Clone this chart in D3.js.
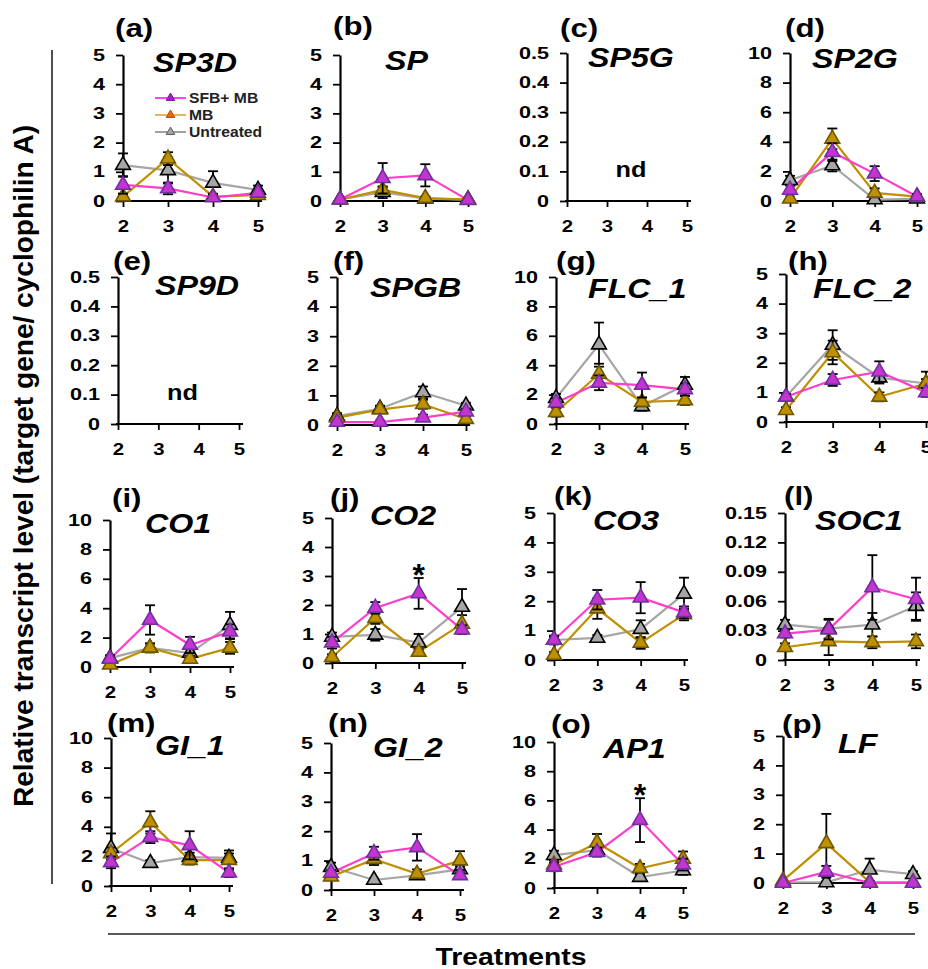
<!DOCTYPE html>
<html>
<head>
<meta charset="utf-8">
<script src="https://cdn.jsdelivr.net/npm/d3@7"></script>
<style>
body { margin: 0; background: #fff; }
svg text { font-family: "Liberation Sans", Arial, sans-serif; font-weight: bold; fill: #000; }
</style>
</head>
<body>
<script>
// - data -

const panelLetters = ['a', 'b', 'c', 'd', 'e', 'f', 'g', 'h', 'i', 'j', 'k', 'l', 'm', 'n', 'o', 'p'];
const genes = ['SP3D', 'SP', 'SP5G', 'SP2G', 'SP9D', 'SPGB', 'FLC_1', 'FLC_2',
	'CO1', 'CO2', 'CO3', 'SOC1', 'GI_1', 'GI_2', 'AP1', 'LF'];
const treatments = [2, 3, 4, 5];
const seriesNames = ['SFB+ MB', 'MB', 'Untreated'];

const ticks5 = [0, 1, 2, 3, 4, 5];
const ticks10 = [0, 2, 4, 6, 8, 10];
const ticks05 = [0, 0.1, 0.2, 0.3, 0.4, 0.5];
const ticks015 = [0, 0.03, 0.06, 0.09, 0.12, 0.15];
const yTickSets = [ticks5, ticks5, ticks05, ticks10, ticks05, ticks5, ticks10, ticks5,
	ticks10, ticks5, ticks5, ticks015, ticks10, ticks5, ticks10, ticks5];

// null = not detected (nd)
const sfbMb = [
	[0.55, 0.43, 0.12, 0.28], [0.05, 0.78, 0.88, 0.03], null, [0.75, 3.3, 1.85, 0.3],
	null, [0.1, 0.1, 0.25, 0.45], [1.45, 2.8, 2.65, 2.35], [0.85, 1.42, 1.7, 1.0],
	[0.55, 3.2, 1.5, 2.4], [0.7, 1.9, 2.4, 1.15], [0.68, 2.05, 2.12, 1.62], [0.027, 0.031, 0.074, 0.062],
	[1.6, 3.3, 2.75, 0.9], [0.58, 1.25, 1.45, 0.5], [1.45, 2.45, 4.65, 1.6], [0, 0.38, 0, 0]
];
const sfbMbErr = [
	[0.3, 0.2, 0.1, 0.1], [0.03, 0.52, 0.38, 0.02], null, [0.3, 0.6, 0.5, 0.15],
	null, [0.05, 0.05, 0.1, 0.1], [0.3, 0.5, 0.85, 0.4], [0.1, 0.2, 0.35, 0.15],
	[0.2, 1.0, 0.55, 0.5], [0.2, 0.2, 0.53, 0.15], [0.15, 0.33, 0.53, 0.2], [0.004, 0.01, 0.033, 0.022],
	[0.4, 0.4, 0.95, 0.3], [0.1, 0.22, 0.45, 0.1], [0.3, 0.3, 1.5, 0.4], [0, 0.2, 0, 0]
];
const mb = [
	[0.15, 1.45, 0.15, 0.2], [0.05, 0.38, 0.1, 0.05], null, [0.15, 4.2, 0.55, 0.3],
	null, [0.25, 0.52, 0.7, 0.2], [0.8, 3.4, 1.5, 1.6], [0.4, 2.35, 0.85, 1.3],
	[0.15, 1.3, 0.55, 1.3], [0.2, 1.55, 0.38, 1.35], [0.17, 1.75, 0.58, 1.55], [0.013, 0.019, 0.018, 0.019],
	[2.2, 4.3, 1.75, 1.75], [0.45, 1.05, 0.55, 1.0], [1.6, 3.1, 1.35, 2.0], [0.08, 1.35, 0.03, 0.02]
];
const mbErr = [
	[0.1, 0.22, 0.1, 0.1], [0.03, 0.1, 0.05, 0.03], null, [0.1, 0.7, 0.3, 0.15],
	null, [0.1, 0.1, 0.15, 0.1], [0.3, 0.7, 0.3, 0.3], [0.1, 0.4, 0.15, 0.15],
	[0.1, 0.3, 0.2, 0.4], [0.1, 0.2, 0.1, 0.3], [0.1, 0.35, 0.2, 0.2], [0.004, 0.014, 0.006, 0.007],
	[0.4, 0.75, 0.3, 0.65], [0.1, 0.2, 0.15, 0.32], [0.3, 0.6, 0.3, 0.5], [0.02, 1.0, 0.02, 0.02]
];
const untreated = [
	[1.23, 1.05, 0.62, 0.38], [0.05, 0.3, 0.08, 0.05], null, [1.4, 2.4, 0.1, 0.15],
	null, [0.3, 0.55, 1.1, 0.65], [1.75, 5.4, 1.2, 2.65], [0.85, 2.6, 1.5, 1.3],
	[0.6, 1.3, 0.95, 2.85], [0.9, 0.97, 0.7, 1.93], [0.68, 0.75, 1.05, 2.25], [0.036, 0.032, 0.036, 0.055],
	[2.55, 1.55, 1.95, 1.9], [0.78, 0.34, 0.5, 0.7], [2.25, 2.6, 0.75, 1.2], [0.02, 0.02, 0.45, 0.3]
];
const untreatedErr = [
	[0.4, 0.45, 0.4, 0.15], [0.03, 0.2, 0.05, 0.03], null, [0.3, 0.4, 0.05, 0.1],
	null, [0.1, 0.1, 0.2, 0.1], [0.3, 1.5, 0.3, 0.55], [0.1, 0.5, 0.2, 0.4],
	[0.2, 0.3, 0.3, 0.9], [0.15, 0.2, 0.3, 0.62], [0.1, 0.1, 0.3, 0.55], [0.005, 0.01, 0.012, 0.014],
	[1.0, 0.2, 0.3, 0.3], [0.15, 0.05, 0.1, 0.1], [0.3, 0.3, 0.2, 0.3], [0.01, 0.02, 0.38, 0.1]
];

// index of treatment marked with * (significant), -1 = none
const starAt = [-1, -1, -1, -1, -1, -1, -1, -1, -1, 2, -1, -1, -1, -1, 2, -1];

// - layout -

var width = 928;
var height = 969;

// x of treatment 2, x of treatment 5, y of axis top, y of zero
var boxes = [
	[123, 258, 55, 201], [340, 468, 55, 201], [567, 687, 53, 201], [790, 917, 53, 201],
	[118, 239, 277, 424], [337, 466, 277, 425], [556, 685, 277, 424], [786, 926, 274, 422],
	[110, 230, 520, 667], [332, 462, 518, 663], [554, 684, 513, 660], [785, 916, 513, 660],
	[111, 229, 738, 886], [331, 460, 743, 890], [554, 683, 742, 888], [783, 913, 736, 883]
];
var letterPos = [
	[115, 37], [333, 35], [560, 37], [785, 37],
	[113, 270], [333, 270], [556, 270], [788, 270],
	[112, 507], [330, 507], [554, 505], [784, 505],
	[107, 732], [328, 732], [551, 733], [782, 733]
];
var genePos = [
	[153, 72], [385, 70], [588, 67], [812, 68],
	[155, 295], [370, 297], [588, 298], [813, 298],
	[145, 533], [370, 525], [593, 530], [815, 530],
	[155, 755], [373, 757], [603, 758], [838, 753]
];

var styles = {
	'SFB+ MB':   { line: '#ff3dcc', fill: '#c435d0', stroke: '#7030a0', lgLine: '#ff40ff', lgFill: '#a21fd0', lgStroke: '#7a1aa0' },
	'MB':        { line: '#bf9000', fill: '#bf9000', stroke: '#6f5600', lgLine: '#e3b958', lgFill: '#e36c0a', lgStroke: '#b05010' },
	'Untreated': { line: '#a6a6a6', fill: '#a6a6a6', stroke: '#000000', lgLine: '#a0a0a0', lgFill: '#a6a6a6', lgStroke: '#606060' }
};

var svg = d3.select('body').append('svg')
	.attr('width', width)
	.attr('height', height);

// - helpers -

// widen text horizontally (the source figure uses a wide bold face)
function stretch(sel, sx) {
	sel.each(function() {
		var t = d3.select(this);
		var x = +t.attr('x') || 0, y = +t.attr('y') || 0;
		t.attr('x', 0).attr('y', 0)
			.attr('transform', 'translate(' + x + ',' + y + ') scale(' + sx + ',1)');
	});
}

const fmtTick = (d) => String(+d.toFixed(2));

function seriesData(i) {
	return [
		{ name: 'Untreated', values: untreated[i], errs: untreatedErr[i] },
		{ name: 'MB', values: mb[i], errs: mbErr[i] },
		{ name: 'SFB+ MB', values: sfbMb[i], errs: sfbMbErr[i] }
	];
}

// - panels -

function drawPanel(i) {
	var b = boxes[i];
	var yTicks = yTickSets[i];
	var x = d3.scaleLinear().domain([2, 5]).range([b[0], b[1]]);
	var y = d3.scaleLinear().domain([0, yTicks[yTicks.length - 1]]).range([b[3], b[2]]);

	var g = svg.append('g').attr('class', 'panel');

	// y axis
	var ga = g.append('g')
		.attr('transform', 'translate(' + b[0] + ',0)')
		.call(d3.axisLeft(y).tickValues(yTicks).tickFormat(fmtTick).tickSize(7).tickPadding(11).tickSizeOuter(0));
	ga.selectAll('text').attr('font-size', 16);
	stretch(ga.selectAll('text'), 1.35);

	// x axis
	var gx = g.append('g')
		.attr('transform', 'translate(0,' + b[3] + ')')
		.call(d3.axisBottom(x).tickValues(treatments).tickFormat(d3.format('d')).tickSize(6).tickPadding(13).tickSizeOuter(0));
	gx.select('.domain').attr('d', 'M' + (x.range()[0] - 2) + ',0H' + (x.range()[1] + 4));
	gx.selectAll('text').attr('font-size', 17);
	stretch(gx.selectAll('text'), 1.2);

	svg.selectAll('.panel .domain').attr('stroke', '#000').attr('stroke-width', 2.2);
	svg.selectAll('.panel .tick line').attr('stroke', '#000').attr('stroke-width', 1.8);

	// titles
	var lt = g.append('text')
		.attr('x', letterPos[i][0]).attr('y', letterPos[i][1])
		.attr('font-size', 26)
		.text('(' + panelLetters[i] + ')');
	stretch(lt, 1.2);

	var gt = g.append('text')
		.attr('x', genePos[i][0]).attr('y', genePos[i][1])
		.attr('font-size', 28)
		.attr('font-style', 'italic')
		.text(genes[i]);
	stretch(gt, 1.15);

	if (sfbMb[i] == null) {
		var nd = g.append('text')
			.attr('x', x(3.6)).attr('y', y(yTicks[yTicks.length - 1] * 0.16))
			.attr('text-anchor', 'middle')
			.attr('font-size', 22)
			.text('nd');
		stretch(nd, 1.15);
		return;
	}

	var series = seriesData(i);
	var line = d3.line()
		.x(function(d, k) { return x(treatments[k]); })
		.y(function(d) { return y(d); });

	// lines first
	series.forEach(function(s) {
		g.append('path')
			.attr('d', line(s.values))
			.attr('fill', 'none')
			.attr('stroke', styles[s.name].line)
			.attr('stroke-width', 2.2);
	});

	var tri = d3.symbol().type(d3.symbolTriangle).size(95);

	series.forEach(function(s) {
		var pts = s.values.map(function(v, k) { return { t: treatments[k], v: v, e: s.errs[k] }; });

		// error bars
		var eb = g.append('g').selectAll('g')
			.data(pts).enter()
			.append('g')
				.attr('stroke', '#000')
				.attr('stroke-width', 1.8);
		eb.append('line')
			.attr('x1', function(d) { return x(d.t); })
			.attr('x2', function(d) { return x(d.t); })
			.attr('y1', function(d) { return y(Math.max(0, d.v - d.e)); })
			.attr('y2', function(d) { return y(d.v + d.e); });
		eb.append('line')
			.attr('x1', function(d) { return x(d.t) - 5; })
			.attr('x2', function(d) { return x(d.t) + 5; })
			.attr('y1', function(d) { return y(d.v + d.e); })
			.attr('y2', function(d) { return y(d.v + d.e); });
		eb.filter(function(d) { return d.v - d.e > 0; }).append('line')
			.attr('x1', function(d) { return x(d.t) - 5; })
			.attr('x2', function(d) { return x(d.t) + 5; })
			.attr('y1', function(d) { return y(d.v - d.e); })
			.attr('y2', function(d) { return y(d.v - d.e); });

		// markers
		g.append('g').selectAll('path')
			.data(pts).enter()
			.append('path')
				.attr('d', tri)
				.attr('transform', function(d) { return 'translate(' + x(d.t) + ',' + y(d.v) + ')'; })
				.attr('fill', styles[s.name].fill)
				.attr('stroke', styles[s.name].stroke)
				.attr('stroke-width', 1.6);
	});

	// significance star
	if (starAt[i] >= 0) {
		var k = starAt[i];
		g.append('text')
			.attr('x', x(treatments[k]))
			.attr('y', y(sfbMb[i][k] + sfbMbErr[i][k]) + 8)
			.attr('text-anchor', 'middle')
			.attr('font-size', 32)
			.text('*');
	}
}

for (var i = 0; i < genes.length; i++) {
	drawPanel(i);
}

// - legend (inside panel a) -

var legend = svg.append('g').attr('transform', 'translate(155,98)');
var lgRow = d3.scaleBand().domain(seriesNames).range([0, 51]).paddingInner(0);

var lgItem = legend.selectAll('g')
	.data(seriesNames).enter()
	.append('g')
		.attr('transform', function(d) { return 'translate(0,' + (lgRow(d)) + ')'; });

lgItem.append('line')
	.attr('x1', 0).attr('x2', 31)
	.attr('stroke', function(d) { return styles[d].lgLine; })
	.attr('stroke-width', 2);

lgItem.append('path')
	.attr('d', d3.symbol().type(d3.symbolTriangle).size(32))
	.attr('transform', 'translate(15.5,0)')
	.attr('fill', function(d) { return styles[d].lgFill; })
	.attr('stroke', function(d) { return styles[d].lgStroke; })
	.attr('stroke-width', 1);

var lgText = lgItem.append('text')
	.attr('x', 34).attr('dy', '0.36em')
	.attr('font-size', 14)
	.style('fill', '#222')
	.text(function(d) { return d; });
lgText.each(function() {
	d3.select(this).attr('transform', 'translate(34,0) scale(1.12,1)').attr('x', 0);
});

// - shared axis titles -

svg.append('line')
	.attr('x1', 52).attr('x2', 52)
	.attr('y1', 50).attr('y2', 884)
	.attr('stroke', '#222').attr('stroke-width', 1.6);

svg.append('text')
	.attr('transform', 'translate(33,466) rotate(-90) scale(1.04,1)')
	.attr('text-anchor', 'middle')
	.attr('font-size', 27)
	.text('Relative transcript level (target gene/ cyclophilin A)');

svg.append('line')
	.attr('x1', 108).attr('x2', 915)
	.attr('y1', 934).attr('y2', 934)
	.attr('stroke', '#222').attr('stroke-width', 1.6);

svg.append('text')
	.attr('transform', 'translate(511,965) scale(1.18,1)')
	.attr('text-anchor', 'middle')
	.attr('font-size', 24)
	.text('Treatments');
</script>
</body>
</html>
